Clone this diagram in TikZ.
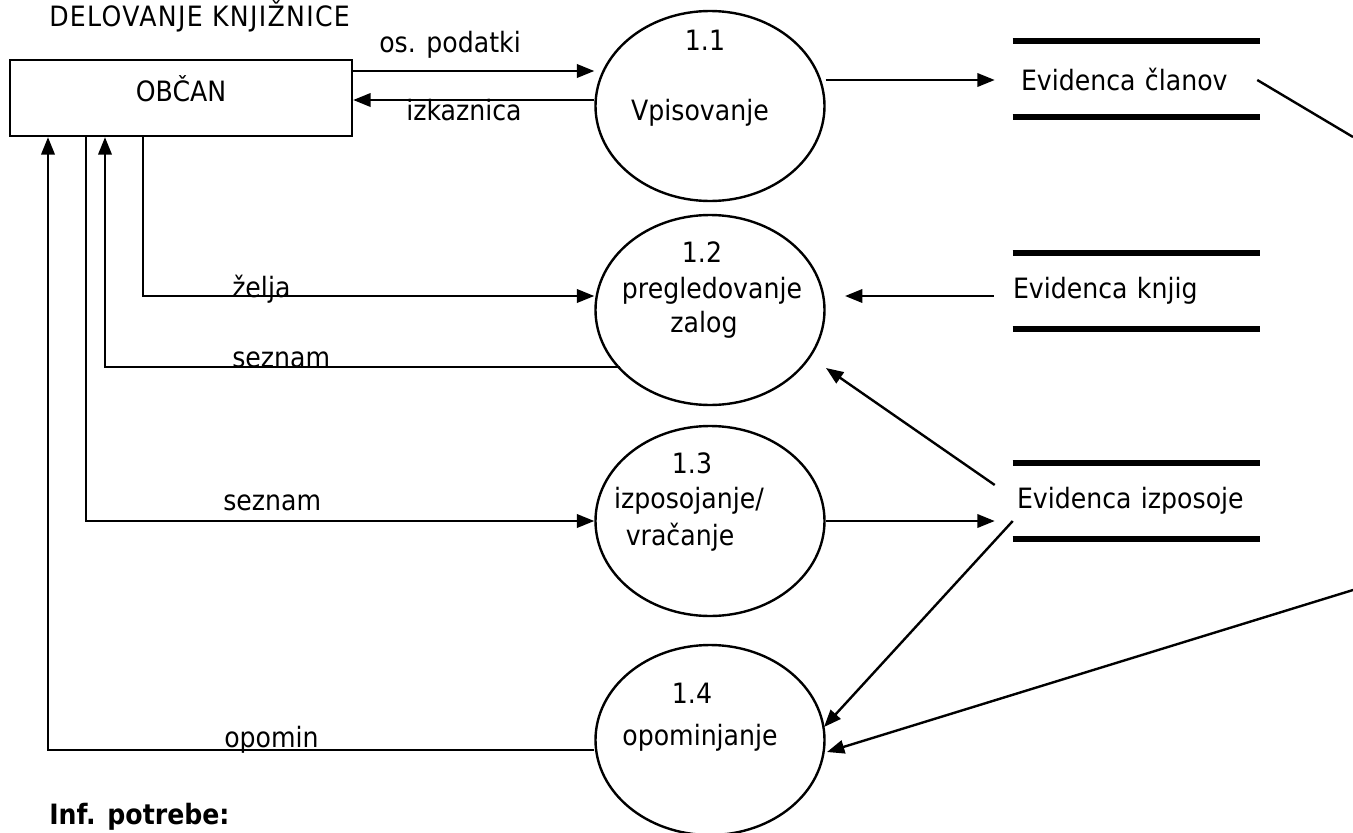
\documentclass[tikz,border=0pt]{standalone}
\usepackage{fontspec}
\setmainfont{DejaVu Sans}[FakeStretch=0.9]
\usetikzlibrary{shapes.geometric,arrows.meta,calc}
\begin{document}
\begin{tikzpicture}[x=0.75pt,y=-0.75pt,
  every node/.style={font=\fontsize{21pt}{25pt}\selectfont, inner sep=0pt},
  ln/.style={line width=1.8pt},
  arr/.style={line width=1.8pt,-{Triangle[length=13pt,width=10pt]}},
  proc/.style={ellipse, draw, line width=1.8pt, minimum width=171.75pt, minimum height=142.5pt},
  extbox/.style={draw, line width=1.8pt, minimum width=256.5pt, minimum height=57pt, text height=4.5pt, text depth=0pt},
  store/.style={text width=185.25pt, minimum height=56.25pt, align=left},
  storeline/.style={line width=4.2pt},
  lbl/.style={anchor=base},
  lblw/.style={anchor=base west}
]
\fill[white] (0,0) rectangle (1353,832);
\useasboundingbox (0,0) rectangle (1353,832);

% title and footer
\node[lblw] (title) at (49,26) {\addfontfeatures{LetterSpace=4.7}DELOVANJE KNJIŽNICE};
\node[lblw, font=\fontsize{21pt}{25pt}\selectfont\bfseries] (inf) at (49,824) {Inf. potrebe:};

% external entity
\node[extbox] (obcan) at (181,98) {OBČAN};

% processes
\node[proc] (p11) at (710,106) {};
\node[proc] (p12) at (710,310) {};
\node[proc] (p13) at (710,521) {};
\node[proc] (p14) at (710,740) {};

\node[lbl] (t11) at (705,50) {1.1};
\node[lbl] (t11b) at (700,120) {Vpisovanje};
\node[lbl] (t12) at (702,262) {1.2};
\node[lbl] (t12b) at (712,298) {pregledovanje};
\node[lbl] (t12c) at (704,332) {zalog};
\node[lbl] (t13) at (692,473) {1.3};
\node[lbl] (t13b) at (689,508) {izposojanje/};
\node[lbl] (t13c) at (680,545) {vračanje};
\node[lbl] (t14) at (692,703) {1.4};
\node[lbl] (t14b) at (700,745) {opominjanje};

% data stores
\node[store] (clanov) at (1136.5,79) {\hspace*{6pt}Evidenca članov};
\node[store] (knjig) at (1136.5,291) {Evidenca knjig};
\node[store] (izposoje) at (1136.5,501) {\hspace*{3pt}Evidenca izposoje};
\foreach \s in {clanov,knjig,izposoje}{
  \draw[storeline] (\s.north west) -- (\s.north east);
  \draw[storeline] (\s.south west) -- (\s.south east);
}

% flow labels
\node[lblw] (losp) at (379,52) {os. podatki};
\node[lblw] (lizk) at (406,120) {izkaznica};
\node[lblw] (lzel) at (232,297) {želja};
\node[lblw] (lsez1) at (232,367) {seznam};
\node[lblw] (lsez2) at (223,510) {seznam};
\node[lblw] (lopo) at (224,747) {opomin};

% free ends at the picture edge
\coordinate (edgeA) at (1353,137);
\coordinate (edgeB) at (1353,590);

% flows
\draw[arr] (obcan.east |- 0,71) -- (p11.west |- 0,71);
\draw[arr] (p11.west |- 0,100) -- (obcan.east |- 0,100);
\draw[arr] (p11.east |- 0,80) -- ($(clanov.west)+(-18,1)$);
\draw[ln] ($(clanov.east)+(-3,1)$) -- (edgeA);
\draw[arr] ($(knjig.west)+(-19,5)$) -- ($(p12.center)+(135,-14)$);
\draw[arr] (p13.east) -- ($(izposoje.west)+(-18,20)$);
\draw[arr] ($(izposoje.west)+(-18,-16)$) -- ($(p12.center)+(116,58)$);
\draw[arr] ($(izposoje.west)+(0,20)$) -- ($(p14.center)+(114,-13)$);
\draw[arr] (edgeB) -- ($(p14.center)+(117,12)$);

\draw[arr] (p14.west |- 0,750) -| (obcan.south -| 48,0);
\draw[arr] (obcan.south -| 86,0) |- (p13.west);
\draw[arr] ($(p12.center)+(-90,57)$) -| (obcan.south -| 105,0);
\draw[arr] (obcan.south -| 143,0) |- (p12.west |- 0,296);
\end{tikzpicture}
\end{document}
